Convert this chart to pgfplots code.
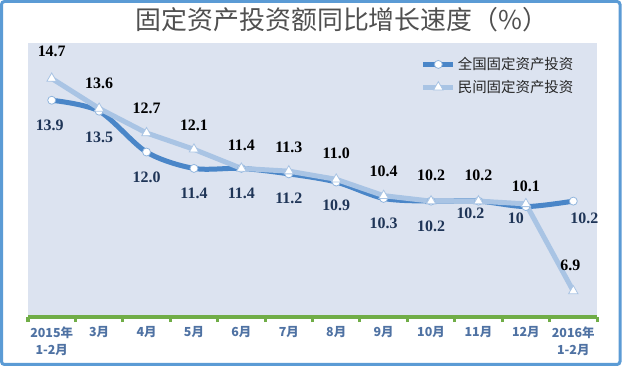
\documentclass[border=0pt]{standalone}
\usepackage{pgfplots}
\pgfplotsset{compat=1.18}
\usepackage{fontspec}
\setmainfont{Liberation Serif}
\newfontfamily\cjk{Noto Sans CJK SC}
\definecolor{frameblue}{HTML}{5B9BD5}
\definecolor{bgc}{HTML}{DCE3F0}
\definecolor{lineA}{HTML}{4A86C8}
\definecolor{lineB}{HTML}{A9C4E4}
\definecolor{axgreen}{HTML}{70AD47}
\definecolor{ticklbl}{HTML}{4F72A3}
\definecolor{lblA}{HTML}{1F3557}
\definecolor{titlec}{HTML}{505050}
\tikzset{
  lblU/.style={font=\bfseries\fontsize{16}{16}\selectfont, text=black, inner sep=0pt},
  lblL/.style={font=\bfseries\fontsize{16}{16}\selectfont, text=lblA, inner sep=0pt},
}
\begin{document}
\begin{tikzpicture}
\useasboundingbox (0,0) rectangle (625bp,366bp);
\fill[white] (0,0) rectangle (625bp,366bp);
\draw[frameblue, line width=3bp, rounded corners=3bp] (1.5bp,1.5bp) rectangle (620bp,364.5bp);
\node[font=\cjk\fontsize{26}{26}\selectfont, text=titlec] at (342bp,346bp) {固定资产投资额同比增长速度（\%）};
\begin{axis}[
  at={(28bp,49bp)}, anchor=south west, width=569bp, height=274bp, scale only axis,
  xmin=-0.5, xmax=11.5, ymin=5.95, ymax=16,
  axis background/.style={fill=bgc},
  axis x line*=bottom, axis y line=none,
  x axis line style={draw=axgreen, line width=3bp, -},
  xtick={0,...,11}, major tick length=0pt,
  minor xtick={-0.5,0.5,...,11.5}, minor tick length=5bp, tick align=outside,
  minor tick style={draw=axgreen, line width=3bp},
  ytick=\empty,
  xticklabels={{2015年\\1-2月},3月,4月,5月,6月,7月,8月,9月,10月,11月,12月,{2016年\\1-2月}},
  xticklabel style={align=center, font=\cjk\bfseries\fontsize{12.5}{17}\selectfont, text=ticklbl, yshift=-6bp},
  clip=false,
  legend style={draw=none, fill=none, at={(0.69,0.955)}, anchor=north west,
    font=\cjk\fontsize{14.5}{14.5}\selectfont, text=black!85, row sep=5bp, inner sep=0pt},
  legend cell align=left,
  legend image code/.code={\draw[#1, mark repeat=2, mark phase=2] plot coordinates {(0bp,0bp) (15bp,0bp) (30bp,0bp)};},
]
\addplot[lineA, line width=5bp, smooth, tension=0.5, mark=*, mark size=4bp,
  mark options={fill=white, draw=lineA!60, line width=0.8bp}]
  coordinates {(0,13.9) (1,13.5) (2,12.0) (3,11.4) (4,11.4) (5,11.2) (6,10.9) (7,10.3) (8,10.2) (9,10.2) (10,10.0) (11,10.2)};
\addlegendentry{全国固定资产投资}
\addplot[lineB, line width=5bp, mark=triangle*, mark size=5.5bp,
  mark options={fill=white, draw=lineB, line width=0.8bp}]
  coordinates {(0,14.7) (1,13.6) (2,12.7) (3,12.1) (4,11.4) (5,11.3) (6,11.0) (7,10.4) (8,10.2) (9,10.2) (10,10.1) (11,6.9)};
\addlegendentry{民间固定资产投资}
% upper labels (民间)
\node[lblU, yshift=27bp] at (axis cs:0,14.7) {14.7};
\node[lblU, yshift=25bp] at (axis cs:1,13.6) {13.6};
\node[lblU, yshift=25bp] at (axis cs:2,12.7) {12.7};
\node[lblU, yshift=24bp] at (axis cs:3,12.1) {12.1};
\node[lblU, yshift=23bp] at (axis cs:4,11.4) {11.4};
\node[lblU, yshift=24bp] at (axis cs:5,11.3) {11.3};
\node[lblU, yshift=26bp] at (axis cs:6,11.0) {11.0};
\node[lblU, yshift=24bp] at (axis cs:7,10.4) {10.4};
\node[lblU, yshift=26bp] at (axis cs:8,10.2) {10.2};
\node[lblU, yshift=26bp] at (axis cs:9,10.2) {10.2};
\node[lblU, yshift=18bp] at (axis cs:10,10.1) {10.1};
\node[lblU, yshift=26bp, xshift=-3bp] at (axis cs:11,6.9) {6.9};
% lower labels (全国)
\node[lblL, yshift=-25bp, xshift=-2bp] at (axis cs:0,13.9) {13.9};
\node[lblL, yshift=-26bp] at (axis cs:1,13.5) {13.5};
\node[lblL, yshift=-25bp] at (axis cs:2,12.0) {12.0};
\node[lblL, yshift=-25bp] at (axis cs:3,11.4) {11.4};
\node[lblL, yshift=-25bp] at (axis cs:4,11.4) {11.4};
\node[lblL, yshift=-24bp] at (axis cs:5,11.2) {11.2};
\node[lblL, yshift=-23bp] at (axis cs:6,10.9) {10.9};
\node[lblL, yshift=-25bp] at (axis cs:7,10.3) {10.3};
\node[lblL, yshift=-25bp] at (axis cs:8,10.2) {10.2};
\node[lblL, yshift=-12bp, xshift=-8bp] at (axis cs:9,10.2) {10.2};
\node[lblL, yshift=-12bp, xshift=-10bp] at (axis cs:10,10.0) {10};
\node[lblL, yshift=-17bp, xshift=11bp] at (axis cs:11,10.2) {10.2};
\end{axis}
\end{tikzpicture}
\end{document}
